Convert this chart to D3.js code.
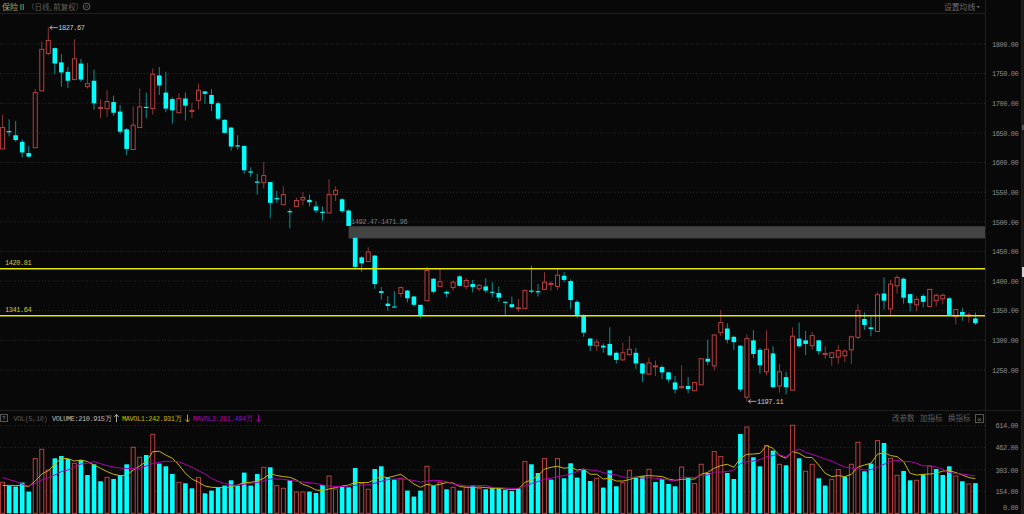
<!DOCTYPE html>
<html><head><meta charset="utf-8">
<script src="https://cdn.jsdelivr.net/npm/d3@7"></script>
<style>
html,body{margin:0;padding:0;background:#080808;overflow:hidden}
svg{display:block}
text{font-family:"Liberation Mono",monospace}
.num{letter-spacing:-0.45px}
.cjk{font-family:"Noto Sans CJK SC",sans-serif;letter-spacing:0}
</style></head><body>
<svg id="c" width="1024" height="514"></svg>
<script>
const highs=[1681,1673,1670,1639,1628,1724,1804,1827.67,1794,1783,1761,1808,1775,1768,1757,1707,1722,1713,1697,1658,1695,1725,1718,1759,1761,1753,1710,1717,1718,1701,1733,1720,1724,1703,1673,1660,1646,1629,1592,1581,1601,1567,1552,1560,1522,1541,1550,1546,1535,1526,1572,1560,1540,1521,1473,1442,1457,1444,1390,1375,1383,1391,1385,1375,1360,1424,1405,1422,1384,1401,1410,1405,1402,1395,1405,1398,1391,1366,1374,1370,1386,1426,1395,1415,1400,1422,1415,1403,1368,1344,1304,1302,1295,1322,1281,1296,1307,1287,1261,1271,1266,1258,1247,1240,1258,1238,1230,1270,1301,1311,1351,1329,1308,1292,1310,1317,1287,1317,1290,1260,1247,1322,1330,1316,1314,1301,1290,1280,1292,1285,1308,1361,1347,1340,1381,1406,1402,1410,1406,1378,1374,1378,1386,1379,1379,1373,1353,1355,1347,1347];
const lows=[1623,1644,1635,1609,1608,1625,1720,1781,1749,1728,1726,1739,1736,1725,1689,1675,1677,1679,1648,1613,1622,1659,1675,1681,1714,1685,1666,1684,1671,1675,1690,1699,1687,1672,1649,1620,1622,1581,1576,1546,1556,1506,1532,1529,1489,1526,1528,1526,1515,1502,1515,1535,1515,1493,1419,1416,1433,1387,1369,1350,1356,1373,1364,1357,1337,1366,1379,1391,1373,1384,1391,1386,1381,1383,1380,1373,1365,1343,1354,1348,1354,1379,1374,1386,1384,1385,1398,1353,1338,1306,1282,1282,1279,1274,1261,1266,1274,1252,1230,1242,1240,1235,1229,1210,1219,1211,1214,1225,1258,1249,1307,1295,1284,1213,1197.11,1270,1244,1241,1220,1212,1209,1216,1288,1275,1284,1276,1269,1257,1260,1263,1260,1302,1318,1307,1315,1352,1343,1379,1362,1349,1349,1356,1357,1357,1361,1342,1327,1333,1330,1326];
const opens=[1623,1653,1646,1635,1616,1625,1721,1784,1793,1769,1753,1740,1767,1728,1738,1692,1691,1702,1686,1656,1622,1659,1694,1691,1747,1718,1707,1684,1708,1686,1705,1720,1714,1700,1672,1659,1629,1628,1585,1568,1566,1567,1540,1529,1518,1526,1537,1537,1526,1517,1515,1546,1538,1519,1473,1440,1433,1443,1383,1362,1357,1379,1384,1374,1360,1367,1404,1391,1382,1389,1408,1391,1395,1387,1391,1382,1380,1365,1361,1354,1354,1384,1383,1386,1395,1391,1409,1400,1365,1342,1303,1291,1291,1294,1279,1267,1276,1279,1261,1243,1256,1255,1246,1229,1220,1223,1215,1225,1269,1257,1313,1320,1306,1291,1204,1300,1284,1247,1278,1223,1238,1216,1303,1300,1291,1300,1276,1271,1272,1274,1284,1305,1336,1322,1315,1379,1353,1392,1404,1378,1360,1375,1357,1367,1370,1371,1340,1348,1341,1337];
const closes=[1659,1651,1638,1617,1610,1718,1791,1806,1767,1752,1738,1775,1740,1733,1700,1693,1703,1684,1652,1623,1663,1694,1692,1749,1730,1691,1688,1708,1696,1688,1722,1716,1699,1674,1650,1627,1627,1587,1583,1566,1578,1532,1538,1546,1516,1536,1541,1533,1519,1515,1546,1553,1518,1493,1424,1430,1449,1395,1380,1358,1356,1389,1371,1360,1343,1418,1382,1399,1379,1398,1392,1401,1390,1393,1384,1381,1372,1364,1356,1355,1384,1382,1381,1398,1396,1410,1402,1368,1343,1313,1291,1297,1288,1275,1267,1279,1285,1261,1244,1262,1257,1246,1234,1217,1222,1218,1229,1269,1264,1309,1330,1301,1297,1217,1303,1277,1258,1285,1221,1247,1221,1307,1290,1294,1308,1282,1278,1279,1283,1282,1306,1350,1326,1319,1377,1367,1395,1406,1372,1363,1369,1365,1386,1376,1376,1343,1352,1343,1343,1329];
const volumes=[217,191,187,215,152,383,448,303,385,401,380,350,373,268,343,224,252,240,268,343,462,392,408,553,348,329,275,217,210,175,250,140,159,180,194,231,194,285,194,275,322,322,194,175,231,149,149,152,142,198,261,170,187,182,317,210,168,310,329,250,236,245,159,117,159,329,191,217,168,182,159,180,194,175,168,180,175,163,156,175,362,343,282,383,236,383,245,350,250,308,226,245,180,301,189,215,301,250,259,308,219,240,205,189,324,250,208,343,282,432,397,282,240,555,604,392,329,474,439,343,336,616,385,294,343,245,194,238,306,257,343,497,294,348,509,492,385,266,296,231,231,273,331,310,268,329,261,224,205,211];
const mavol1=[194,196,194,194,187,226,275,299,343,385,383,366,373,362,338,315,292,273,264,264,303,331,362,432,434,408,385,338,280,240,217,191,182,180,180,184,198,215,217,226,245,278,264,257,252,233,203,187,163,159,170,180,191,198,217,215,215,236,257,250,261,273,240,205,182,203,194,203,215,212,187,184,180,184,180,175,175,170,166,170,217,233,264,310,322,329,315,322,303,310,273,273,240,245,226,226,236,252,261,264,261,257,240,231,238,238,240,273,287,315,334,343,322,385,413,415,420,474,455,404,385,432,420,392,390,338,280,257,264,257,273,324,338,350,413,425,404,397,362,280,268,273,275,280,296,299,285,268,250,242.93];
const mavol2=[250,236,222,205,191,210,233,250,268,292,303,327,345,350,362,348,334,324,317,313,315,315,331,350,357,364,364,359,343,322,299,275,245,224,208,198,196,203,208,215,226,240,240,238,231,224,219,215,208,198,191,187,187,191,196,198,198,210,224,236,240,240,238,229,219,226,231,229,222,205,198,191,191,194,194,182,180,177,175,175,191,208,222,240,245,257,264,275,292,310,303,299,285,275,268,254,250,254,245,250,245,240,233,226,252,252,250,266,268,289,289,292,303,348,362,366,376,397,404,411,394,432,450,427,413,397,380,366,343,324,317,310,303,306,322,343,362,371,362,362,350,331,334,324,308,285,278,275,268,261.49];
const volumeRisingIndex=[0,5,6,7,11,16,20,21,23,27,30,40,42,43,45,46,50,51,55,56,61,65,67,69,71,73,80,83,85,91,95,96,99,104,106,107,109,110,114,117,119,121,123,124,127,128,130,131,134,136,137,140,142,146,148];
const priceTicks=[1250,1300,1350,1400,1450,1500,1550,1600,1650,1700,1750,1800];
const volumeTicks=[154,303,462,614];
const levels=[1420.81,1341.64];
const gapBand=[1492.47,1471.96];

const RED="#b8413f",REDW="#8c3534",CYAN="#00ffff",CYANW="#0c8f90",GRID="#2a2a2a";
const svg=d3.select("#c");
const n=closes.length;
const plotRight=985;
const x=d3.scaleLinear().domain([0,n-1]).range([2.6,975.4]);
const y=d3.scaleLinear().domain([1250,1800]).range([370,44]);
const yv=d3.scaleLinear().domain([0,614]).range([513.3,425.6]);

svg.append("rect").attr("width",1024).attr("height",514).attr("fill","#080808");
svg.append("rect").attr("x",1022).attr("width",2).attr("height",514).attr("fill","#1a1a1a");
svg.append("rect").attr("x",1022).attr("y",125).attr("width",2).attr("height",5).attr("fill","#555");
svg.append("rect").attr("x",1022).attr("y",267).attr("width",2).attr("height",10).attr("fill","#cfcfcf");

// grid
svg.append("g").selectAll("line").data(priceTicks).join("line")
 .attr("x1",0).attr("x2",plotRight).attr("y1",d=>y(d)).attr("y2",d=>y(d))
 .attr("stroke",GRID).attr("stroke-dasharray","1 2");
svg.append("g").selectAll("line").data(volumeTicks).join("line")
 .attr("x1",0).attr("x2",plotRight).attr("y1",d=>yv(d)).attr("y2",d=>yv(d))
 .attr("stroke",GRID).attr("stroke-dasharray","1 2");

// frame lines
const frame=svg.append("g").attr("stroke","#1e1e1e");
frame.append("line").attr("x1",0).attr("x2",plotRight).attr("y1",13.5).attr("y2",13.5);
frame.append("line").attr("x1",0).attr("x2",1022).attr("y1",410.5).attr("y2",410.5);
frame.append("line").attr("x1",985.5).attr("x2",985.5).attr("y1",0).attr("y2",514);
frame.append("line").attr("x1",1021.5).attr("x2",1021.5).attr("y1",0).attr("y2",514);

// gap band
svg.append("rect").attr("x",x(53)).attr("width",plotRight-x(53))
 .attr("y",y(gapBand[0])).attr("height",y(gapBand[1])-y(gapBand[0])).attr("fill","#434343");
svg.append("text").attr("class","num").attr("x",351).attr("y",224).attr("fill","#7e7e7e").attr("font-size",7)
 .text(gapBand[0]+"-"+gapBand[1]);

// candles
const idx=d3.range(n);
const isUp=i=>closes[i]>opens[i];
svg.append("g").selectAll("line").data(idx).join("line")
 .attr("x1",i=>x(i)).attr("x2",i=>x(i)).attr("y1",i=>y(highs[i])).attr("y2",i=>y(lows[i]))
 .attr("stroke",i=>isUp(i)?REDW:CYANW).attr("stroke-width",1);
svg.append("g").selectAll("rect").data(idx).join("rect")
 .attr("x",i=>x(i)-(isUp(i)?2:2.3)).attr("width",i=>isUp(i)?4:4.6)
 .attr("y",i=>y(Math.max(opens[i],closes[i])))
 .attr("height",i=>Math.max(1,Math.abs(y(opens[i])-y(closes[i]))))
 .attr("fill",i=>isUp(i)?"#080808":CYAN)
 .attr("stroke",i=>isUp(i)?RED:"none");

// levels
svg.append("g").selectAll("line").data(levels).join("line")
 .attr("x1",0).attr("x2",plotRight).attr("y1",d=>y(d)).attr("y2",d=>y(d))
 .attr("stroke","#e6e600").attr("stroke-width",1.4);
svg.append("g").selectAll("text").data(levels).join("text").attr("class","num")
 .attr("x",5).attr("y",d=>y(d)-4).attr("fill","#c8c83c").attr("font-size",7).text(d=>d.toFixed(2));

// extreme marks
function mark(i,v){
 const x0=x(i)+1.5,yy=y(v);
 const g=svg.append("g").attr("stroke","#c8c8c8").attr("fill","none").attr("stroke-width",0.8);
 g.append("path").attr("d",`M${x0} ${yy}H${x0+8}M${x0+2.5} ${yy-2}L${x0} ${yy}L${x0+2.5} ${yy+2}`);
 svg.append("text").attr("class","num").attr("x",x0+8.5).attr("y",yy+2.5).attr("fill","#c8c8c8").attr("font-size",7).text(v.toFixed(2));
}
mark(7,1827.67);
mark(114,1197.11);

// volume
const volUp=new Set(volumeRisingIndex);
svg.append("g").selectAll("rect").data(idx).join("rect")
 .attr("x",i=>x(i)-(volUp.has(i)?2:2.3)).attr("width",i=>volUp.has(i)?4:4.6)
 .attr("y",i=>yv(volumes[i])).attr("height",i=>yv(0)-yv(volumes[i]))
 .attr("fill",i=>volUp.has(i)?"#080808":CYAN)
 .attr("stroke",i=>volUp.has(i)?RED:"none");
const vline=d3.line().x((d,i)=>x(i)).y(d=>yv(d));
svg.append("path").attr("d",vline(mavol1)).attr("fill","none").attr("stroke","#c8b400").attr("stroke-width",1);
svg.append("path").attr("d",vline(mavol2)).attr("fill","none").attr("stroke","#b000b0").attr("stroke-width",1);

// axes
const axP=d3.axisRight(y).tickValues(priceTicks).tickSize(0).tickPadding(0).tickFormat(d3.format(".2f"));
const gp=svg.append("g").attr("transform","translate(992,0)").call(axP);
const axV=d3.axisRight(yv).tickValues(volumeTicks).tickSize(0).tickPadding(0).tickFormat(d3.format(".2f"));
const gv=svg.append("g").attr("transform","translate(995.5,0)").call(axV);
[gp,gv].forEach(g=>{g.select(".domain").remove();
 g.selectAll("text").attr("fill","#8c8c8c").attr("font-size",7).attr("class","num").style("font-family",'"Liberation Mono",monospace');});
svg.append("text").attr("class","num").attr("x",1003).attr("y",510).attr("fill","#8c8c8c").attr("font-size",7).text("0.00");

// headers
function t(xp,yp,s,col,size,cls,anchor){const e=svg.append("text").attr("x",xp).attr("y",yp).attr("fill",col).attr("font-size",size).text(s);
 if(cls)e.attr("class",cls); if(anchor)e.attr("text-anchor",anchor); return e;}
function arrow(xp,col,up){
 const top=414.5,bot=422,h=up?top:bot,d=up?2.5:-2.5;
 svg.append("path").attr("d",`M${xp} ${top}V${bot}M${xp-2.2} ${h+d}L${xp} ${h}L${xp+2.2} ${h+d}`)
  .attr("stroke",col).attr("stroke-width",0.9).attr("fill","none");
}
t(2,10,"保险Ⅱ","#a8a86a",8,"cjk");
t(27,10,"（日线, 前复权）","#5e5e5e",7.5,"cjk");
svg.append("circle").attr("cx",86.5).attr("cy",6.5).attr("r",3.2).attr("fill","none").attr("stroke","#5a5a5a").attr("stroke-width",1.1);
svg.append("circle").attr("cx",86.5).attr("cy",6.5).attr("r",1.1).attr("fill","none").attr("stroke","#5a5a5a").attr("stroke-width",0.8);
t(944,10,"设置均线","#6e6e6e",7.8,"cjk");
svg.append("path").attr("d","M976.5 6L980 6L978.25 8Z").attr("fill","#6e6e6e");

svg.append("rect").attr("x",0.5).attr("y",414.5).attr("width",7).attr("height",7).attr("fill","none").attr("stroke","#555");
t(2,420,"?","#888",6);
t(13.5,420.5,"VOL(5,10)","#5a5a5a",7,"num");
t(52,420.5,"VOLUME:210.915万","#bbbbbb",7,"num");
arrow(116.5,"#bbbbbb",true);
t(122,420.5,"MAVOL1:242.931万","#c8b400",7,"num");
arrow(187.5,"#c8b400",false);
t(193,420.5,"MAVOL2:261.494万","#b000b0",7,"num");
arrow(258.5,"#b000b0",false);
t(892,421,"改参数","#5e5e5e",7.5,"cjk");
t(920,421,"加指标","#5e5e5e",7.5,"cjk");
t(948,421,"换指标","#5e5e5e",7.5,"cjk");
svg.append("rect").attr("x",975.5).attr("y",414.5).attr("width",8).attr("height",8).attr("fill","none").attr("stroke","#555");
t(979.5,421.5,"×","#777",8,null,"middle");
</script></body></html>
